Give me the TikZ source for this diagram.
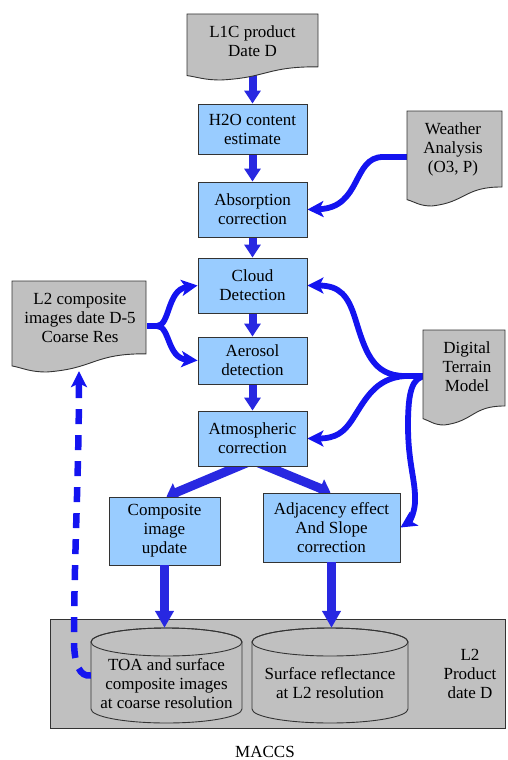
\documentclass[tikz,border=0pt]{standalone}
\usepackage{fontspec}
\setmainfont{Liberation Serif}
\usetikzlibrary{arrows.meta,calc}
\pgfdeclarelayer{bg}
\pgfsetlayers{bg,main}
\definecolor{boxblue}{RGB}{153,204,255}
\definecolor{docgrey}{RGB}{192,192,192}
\definecolor{edgegrey}{RGB}{51,51,51}
\definecolor{flowblue}{RGB}{40,40,225}
\definecolor{curveblue}{RGB}{20,20,240}

% document shape: x1 y1 x2 ylowest (pixel coords, y downwards)
\newcommand\docshape[4]{%
  \filldraw[fill=docgrey, draw=edgegrey, line width=0.9pt]
   (#1,#2) -- (#3,#2) -- (#3,{#2+0.8*(#4-#2)})
   .. controls ({#1+0.604*(#3-#1)},{#2+0.797*(#4-#2)}) and ({#1+0.618*(#3-#1)},{#2+0.962*(#4-#2)}) .. ({#1+0.26*(#3-#1)},#4)
   .. controls ({#1+0.132*(#3-#1)},#4) and ({#1+0.086*(#3-#1)},{#2+0.958*(#4-#2)}) .. (#1,{#2+0.933*(#4-#2)}) -- cycle;}

% cylinder: cx rx ytop ybottom
\newcommand\cylshape[4]{%
  \filldraw[fill=docgrey, draw=edgegrey, line width=0.9pt]
   ({#1-#2},{#3+14}) -- ({#1-#2},{#4-14})
   arc[start angle=180, end angle=360, x radius=#2pt, y radius=14pt]
   -- ({#1+#2},{#3+14})
   arc[start angle=0, end angle=180, x radius=#2pt, y radius=14pt] -- cycle;
  \draw[draw=edgegrey, line width=0.9pt] (#1,{#3+14}) ellipse [x radius=#2pt, y radius=14pt];}

\begin{document}
\begin{tikzpicture}[x=1pt,y=-1pt,
  every node/.style={font=\fontsize{17}{19}\selectfont, align=center, inner sep=0pt, text=black},
  procbox/.style={draw=edgegrey, fill=boxblue, line width=0.9pt},
  flow/.style={color=flowblue, line width=8pt, -{Triangle[width=16pt,length=13pt]}},
  bigflow/.style={color=flowblue, line width=9pt, -{Triangle[width=18pt,length=17pt]}},
  slantflow/.style={color=flowblue, line width=9pt, -{Triangle[width=19pt,length=11pt]}},
  curveflow/.style={color=curveblue, line width=5.8pt, -{Stealth[width=16pt,length=16pt,inset=4pt]}},
  dashflow/.style={curveflow, line width=6.5pt, dash pattern=on 15pt off 11pt},
]
\useasboundingbox (0,0) rectangle (507,760);

% documents
\docshape{187}{14}{318}{80}
\node[minimum width=131pt, minimum height=54pt] (l1c) at (252.5,41) {L1C product\\Date D};
\docshape{407}{111}{502}{206}
\node[minimum width=92pt, minimum height=76pt] (weather) at (453,149) {Weather\\Analysis\\(O3, P)};
\docshape{12}{281}{146}{372}
\node[minimum width=134pt, minimum height=74pt] (l2c) at (80,318) {L2 composite\\images date D-5\\Coarse Res};
\docshape{423}{330}{505}{425}
\node[minimum width=82pt, minimum height=74pt] (dtm) at (467,367) {Digital\\Terrain\\Model};

% processing boxes
\node[procbox, minimum width=109pt, minimum height=50pt] (h2o) at (252.5,129) {H2O content\\estimate};
\node[procbox, minimum width=109pt, minimum height=55pt] (absc) at (252.5,209.5) {Absorption\\correction};
\node[procbox, minimum width=109pt, minimum height=55pt] (cloud) at (252.5,285.5) {Cloud\\Detection};
\node[procbox, minimum width=109pt, minimum height=47pt] (aero) at (252.5,360.5) {Aerosol\\detection};
\node[procbox, minimum width=109pt, minimum height=55pt] (atm) at (252.5,438.5) {Atmospheric\\correction};
\node[procbox, minimum width=111pt, minimum height=68pt] (comp) at (164.5,531) {Composite\\image\\update};
\node[procbox, minimum width=137pt, minimum height=69pt] (adj) at (331.5,527.5) {Adjacency effect\\And Slope\\correction};

% L2 product container and cylinders
\node[draw=edgegrey, fill=docgrey, line width=0.9pt, minimum width=455pt, minimum height=109pt] (l2box) at (277.5,673.5) {};
\node (l2lbl) at (470,674) {L2\\Product\\date D};
\cylshape{166.5}{75.5}{628}{723}
\node[minimum width=151pt, minimum height=95pt] (cyl1) at (166.5,675.5) {};
\node (cyl1txt) at (166.5,684) {TOA and surface\\composite images\\at coarse resolution};
\cylshape{330}{78}{628}{723}
\node[minimum width=156pt, minimum height=95pt] (cyl2) at (330,675.5) {};
\node (cyl2txt) at (330,683) {Surface reflectance\\at L2 resolution};

\node (maccs) at (265,752) {MACCS};

% connectors drawn over the L2 product container
\draw[bigflow] (comp.south) -- (comp.south |- cyl1.north);
\draw[bigflow] (adj.south) -- (adj.south |- cyl2.north);
\draw[dashflow] (cyl1.west) .. controls (80,677) and (74,665) .. (74,640)
   .. controls (74,560) and (79,470) .. ([yshift=-16pt,xshift=-1pt]l2c.south);

\begin{pgfonlayer}{bg}
  % straight flow
  \draw[flow] (l1c.south) -- (h2o.north);
  \draw[flow] (h2o.south) -- (absc.north);
  \draw[flow] (absc.south) -- (cloud.north);
  \draw[flow] (cloud.south) -- (aero.north);
  \draw[flow] (aero.south) -- (atm.north);
  \draw[slantflow] ([yshift=6pt]atm.south) -- ([xshift=2pt]comp.north);
  \draw[slantflow] ([yshift=6pt]atm.south) -- ([xshift=-1pt]adj.north);
  % weather
  \draw[curveflow] ([yshift=-8pt]weather.west) -- (383,157)
     .. controls (352,157) and (362,208) .. (absc.east);
  % L2 composite
  \draw[curveflow] ([yshift=-8pt]l2c.east) -- (157,326)
     .. controls (170,326) and (167,290) .. (cloud.west);
  \draw[curveflow] ([yshift=-8pt]l2c.east) -- (157,326)
     .. controls (170,326) and (167,358) .. (aero.west);
  % DTM
  \draw[curveflow] ([yshift=-9pt]dtm.west) -- (405,376)
     .. controls (372,376) and (365,350) .. (355,318)
     .. controls (348,296) and (340,285.5) .. (cloud.east);
  \draw[curveflow] ([yshift=-9pt]dtm.west) -- (405,376)
     .. controls (375,378) and (365,400) .. (352,420)
     .. controls (344,432) and (336,438.5) .. (atm.east);
  \draw[curveflow] ([yshift=-9pt]dtm.west)
     .. controls (412,377) and (408,392) .. (408,425)
     .. controls (408,465) and (416,480) .. (415,503)
     .. controls (414,515) and (409,522) .. (adj.east);
\end{pgfonlayer}
\end{tikzpicture}
\end{document}
